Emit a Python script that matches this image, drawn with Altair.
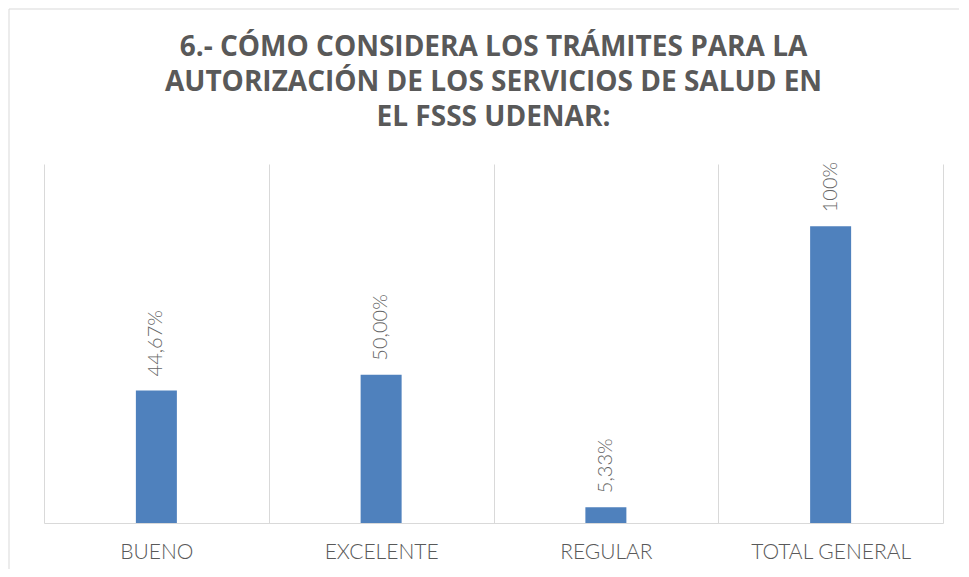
import altair as alt
import pandas as pd

categories = ["BUENO", "EXCELENTE", "REGULAR", "TOTAL GENERAL"]
values = [44.67, 50.00, 5.33, 100.0]
labels = ["44,67%", "50,00%", "5,33%", "100%"]
title_lines = [
    "6.- CÓMO CONSIDERA LOS TRÁMITES PARA LA",
    "AUTORIZACIÓN DE LOS SERVICIOS DE SALUD EN",
    "EL FSSS UDENAR:",
]

df = pd.DataFrame({"cat": categories, "val": values, "lab": labels})

x_enc = alt.X(
    "cat:N",
    sort=categories,
    scale=alt.Scale(paddingInner=0, paddingOuter=0),
    axis=alt.Axis(
        title=None,
        labelAngle=0,
        ticks=False,
        tickBand="extent",
        grid=True,
        gridColor="#d9d9d9",
        domainColor="#d9d9d9",
        labelFont="Lato",
        labelFontSize=21,
        labelFontWeight=300,
        labelColor="#595959",
        labelPadding=18,
    ),
)
y_enc = alt.Y("val:Q", scale=alt.Scale(domain=[0, 121], nice=False), axis=None)

base = alt.Chart(df)
bars = base.mark_bar(size=41, color="#4F81BD").encode(x=x_enc, y=y_enc)
texts = base.mark_text(
    angle=270, align="left", baseline="middle", dx=14,
    font="Lato", fontSize=20, fontWeight=300, color="#666666",
).encode(x=alt.X("cat:N", sort=categories), y=y_enc, text="lab:N")

frame = alt.Data(values=[{"a": 1}])
title_mark = alt.Chart(frame).mark_text(
    text=title_lines,
    font="Open Sans",
    fontSize=28,
    fontWeight="bold",
    color="#595959",
    lineHeight=35,
    align="center",
    baseline="middle",
).encode(x=alt.value(449.5), y=alt.value(-116))
left_border = alt.Chart(frame).mark_rule(color="#d9d9d9", strokeWidth=1).encode(
    x=alt.value(-35), y=alt.value(-155), y2=alt.value(405)
)
top_border = alt.Chart(frame).mark_rule(color="#d9d9d9", strokeWidth=1).encode(
    x=alt.value(-35), x2=alt.value(915), y=alt.value(-155)
)

chart = alt.layer(bars, texts, title_mark, left_border, top_border).properties(
    width=899,
    height=359,
    padding={"left": 0, "top": 0, "right": 0, "bottom": 0},
).configure_view(stroke=None)

chart.save("out.html", embed_options={"renderer": "svg", "actions": False})
